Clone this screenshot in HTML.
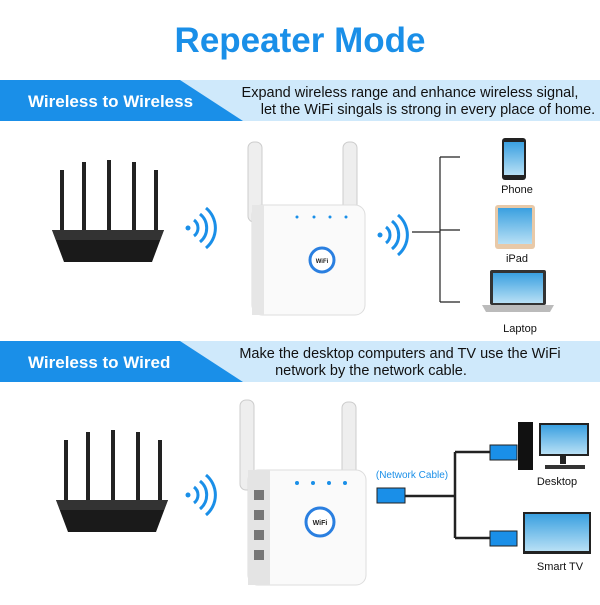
<!DOCTYPE html>
<html><head><meta charset="utf-8"><style>
body{margin:0;width:600px;height:600px;background:#fff;overflow:hidden;font-family:"Liberation Sans",sans-serif}
</style></head><body>
<svg width="600" height="600" viewBox="0 0 600 600" xmlns="http://www.w3.org/2000/svg" font-family="Liberation Sans, sans-serif">
<defs>
<linearGradient id="scr" x1="0" y1="0" x2="0" y2="1"><stop offset="0" stop-color="#3aa0e0"/><stop offset="1" stop-color="#b8e0f5"/></linearGradient>
<g id="router">
<rect x="8" y="0" width="4" height="60" fill="#222"/>
<rect x="30" y="-8" width="4" height="68" fill="#222"/>
<rect x="55" y="-10" width="4" height="70" fill="#222"/>
<rect x="80" y="-8" width="4" height="68" fill="#222"/>
<rect x="102" y="0" width="4" height="60" fill="#222"/>
<polygon points="0,60 112,60 100,92 12,92" fill="#1a1a1a"/>
<polygon points="0,60 112,60 108,70 4,70" fill="#333"/>
</g>
<g id="wifi" fill="none" stroke="#1a8fe8" stroke-width="3">
<circle cx="0" cy="0" r="2.5" fill="#1a8fe8" stroke="none"/>
<path d="M6,-8 A10,10 0 0 1 6,8"/>
<path d="M12,-14 A18,18 0 0 1 12,14"/>
<path d="M18,-20 A26,26 0 0 1 18,20"/>
</g>
</defs>
<text x="300" y="52" text-anchor="middle" font-size="35" font-weight="bold" fill="#1a8fe8">Repeater Mode</text>

<!-- banner 1 -->
<rect x="0" y="80" width="600" height="41" fill="#cfe9fb"/>
<polygon points="0,80 180,80 243,121 0,121" fill="#1a8fe8"/>
<text x="28" y="107" font-size="17" font-weight="bold" fill="#fff">Wireless to Wireless</text>
<text x="410" y="97" text-anchor="middle" font-size="14.5" fill="#111">Expand wireless range and enhance wireless signal,</text>
<text x="428" y="114" text-anchor="middle" font-size="14.5" fill="#111">let the WiFi singals is strong in every place of home.</text>

<!-- banner 2 -->
<rect x="0" y="341" width="600" height="41" fill="#cfe9fb"/>
<polygon points="0,341 180,341 243,382 0,382" fill="#1a8fe8"/>
<text x="28" y="368" font-size="17" font-weight="bold" fill="#fff">Wireless to Wired</text>
<text x="400" y="358" text-anchor="middle" font-size="14.5" fill="#111">Make the desktop computers and TV use the WiFi</text>
<text x="371" y="375" text-anchor="middle" font-size="14.5" fill="#111">network by the network cable.</text>

<!-- section 1 -->
<use href="#router" x="52" y="170"/>
<use href="#wifi" x="188" y="228"/>
<rect x="248" y="142" width="14" height="80" rx="6" fill="#eee" stroke="#ccc"/>
<rect x="343" y="142" width="14" height="80" rx="6" fill="#eee" stroke="#ccc"/>
<rect x="252" y="205" width="113" height="110" rx="10" fill="#fafafa" stroke="#ddd"/>
<rect x="252" y="205" width="12" height="110" fill="#e6e6e6"/>
<circle cx="297" cy="217" r="1.5" fill="#1a8fe8"/><circle cx="314" cy="217" r="1.5" fill="#1a8fe8"/><circle cx="330" cy="217" r="1.5" fill="#1a8fe8"/><circle cx="346" cy="217" r="1.5" fill="#1a8fe8"/>
<circle cx="322" cy="260" r="12" fill="#fff" stroke="#2a7fe0" stroke-width="3"/>
<text x="322" y="263" text-anchor="middle" font-size="6" font-weight="bold" fill="#222">WiFi</text>
<use href="#wifi" x="380" y="235" transform="translate(0,0)"/>
<path d="M412,232 H440 M440,157 V302 M440,157 H460 M440,230 H460 M440,302 H460" stroke="#222" stroke-width="1.2" fill="none"/>
<rect x="502" y="138" width="24" height="42" rx="3" fill="#222"/>
<rect x="504" y="142" width="20" height="33" fill="url(#scr)"/>
<text x="517" y="193" text-anchor="middle" font-size="11" fill="#111">Phone</text>
<rect x="495" y="205" width="40" height="44" rx="3" fill="#e8c9a8"/>
<rect x="498" y="208" width="34" height="36" fill="url(#scr)"/>
<text x="517" y="262" text-anchor="middle" font-size="11" fill="#111">iPad</text>
<rect x="490" y="270" width="56" height="35" rx="2" fill="#333"/>
<rect x="493" y="273" width="50" height="30" fill="url(#scr)"/>
<polygon points="482,305 554,305 550,312 486,312" fill="#bbb"/>
<text x="520" y="332" text-anchor="middle" font-size="11" fill="#111">Laptop</text>

<!-- section 2 -->
<use href="#router" x="56" y="440"/>
<use href="#wifi" x="188" y="495"/>
<rect x="240" y="400" width="14" height="90" rx="6" fill="#eee" stroke="#ccc"/>
<rect x="342" y="402" width="14" height="90" rx="6" fill="#eee" stroke="#ccc"/>
<rect x="248" y="470" width="118" height="115" rx="10" fill="#fafafa" stroke="#ddd"/>
<rect x="248" y="470" width="22" height="115" fill="#e4e4e4"/>
<rect x="254" y="490" width="10" height="10" fill="#777"/><rect x="254" y="510" width="10" height="10" fill="#777"/><rect x="254" y="530" width="10" height="10" fill="#777"/><rect x="254" y="550" width="10" height="10" fill="#777"/>
<circle cx="297" cy="483" r="2" fill="#1a8fe8"/><circle cx="313" cy="483" r="2" fill="#1a8fe8"/><circle cx="329" cy="483" r="2" fill="#1a8fe8"/><circle cx="345" cy="483" r="2" fill="#1a8fe8"/>
<circle cx="320" cy="522" r="14" fill="#fff" stroke="#2a7fe0" stroke-width="3"/>
<text x="320" y="525" text-anchor="middle" font-size="7" font-weight="bold" fill="#222">WiFi</text>

<text x="412" y="478" text-anchor="middle" font-size="10" fill="#1a8fe8">(Network Cable)</text>
<rect x="377" y="488" width="28" height="15" fill="#1a8fe8" stroke="#222"/>
<path d="M405,496 H455 M455,452 V538 M455,452 H490 M455,538 H490" stroke="#222" stroke-width="2.5" fill="none"/>
<rect x="490" y="445" width="27" height="15" fill="#1a8fe8" stroke="#222"/>
<rect x="490" y="531" width="27" height="15" fill="#1a8fe8" stroke="#222"/>
<rect x="518" y="422" width="15" height="48" fill="#111"/>
<rect x="539" y="423" width="50" height="33" fill="#222"/>
<rect x="541" y="425" width="46" height="29" fill="url(#scr)"/>
<rect x="560" y="456" width="6" height="8" fill="#222"/>
<rect x="545" y="465" width="40" height="4" fill="#333"/>
<text x="557" y="485" text-anchor="middle" font-size="11" fill="#111">Desktop</text>
<rect x="523" y="512" width="68" height="42" fill="#222"/>
<rect x="525" y="514" width="64" height="37" fill="url(#scr)"/>
<text x="560" y="570" text-anchor="middle" font-size="11" fill="#111">Smart TV</text>
</svg>
</body></html>
